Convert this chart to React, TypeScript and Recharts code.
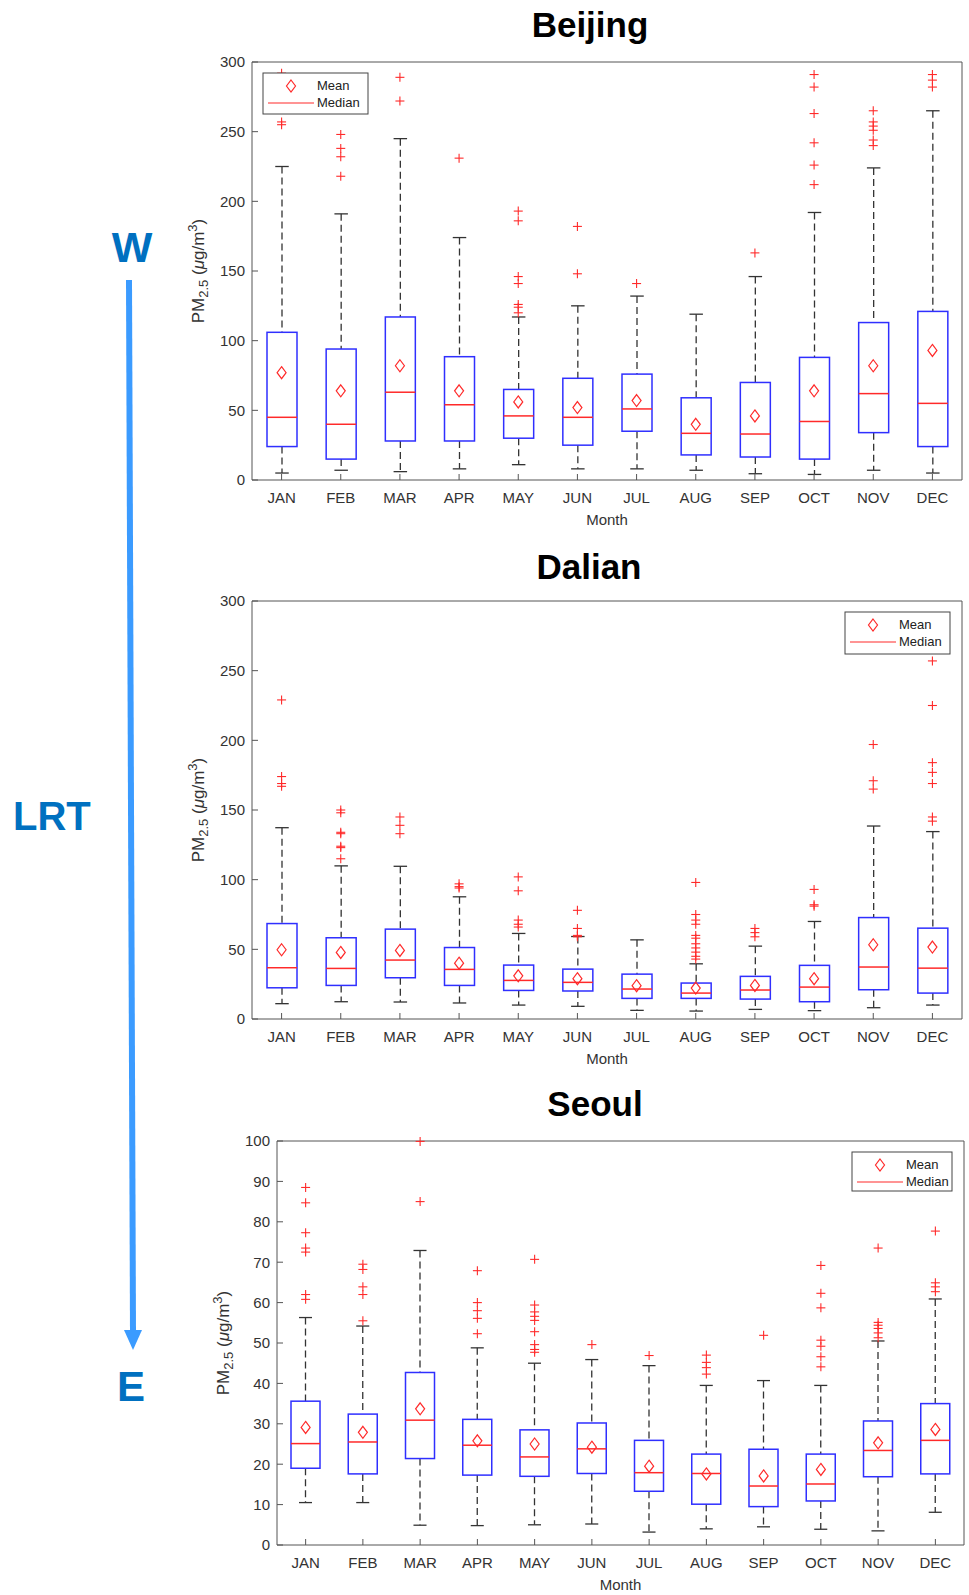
import { Bar, ComposedChart, Label, Scatter, XAxis, YAxis } from "recharts";

const months = ["JAN", "FEB", "MAR", "APR", "MAY", "JUN", "JUL", "AUG", "SEP", "OCT", "NOV", "DEC"];

// Beijing
const beijingLow = [5, 7, 6, 8, 11, 8, 8, 7, 4.5, 4, 7, 5];
const beijingQ1 = [24, 15, 28, 28, 30, 25, 35, 18, 16.5, 15, 34, 24];
const beijingMedian = [45, 40, 63, 54, 46, 45, 51, 33.5, 33, 42, 62, 55];
const beijingQ3 = [106, 94, 117, 88.5, 65, 73, 76, 59, 70, 88, 113, 121];
const beijingHigh = [225, 191, 245, 174, 117, 125, 132, 119, 146, 192, 224, 265];
const beijingMean = [77, 64, 82, 64, 56, 52, 57, 40, 46, 64, 82, 93];
const beijingOutliers = [
  [255, 257, 292],
  [218, 232, 238, 248],
  [272, 289],
  [231],
  [120, 124, 126, 141, 146, 186, 193],
  [148, 182],
  [141],
  [],
  [163],
  [212, 226, 242, 263, 282, 291],
  [240, 244, 251, 254, 257, 265],
  [282, 287, 291],
];

// Dalian
const dalianLow = [11, 12.4, 12.2, 11.5, 10, 9.1, 6.2, 5.7, 6.9, 6, 8.1, 10];
const dalianQ1 = [22.4, 24.1, 29.6, 24.1, 20.5, 20.1, 14.8, 14.8, 14.3, 12.4, 21, 18.6];
const dalianMedian = [36.8, 36.3, 42.3, 35.6, 27.7, 26.3, 21.5, 18.6, 20.8, 22.9, 37.3, 36.5];
const dalianQ3 = [68.5, 58.3, 64.5, 51.3, 38.7, 35.8, 32.2, 25.8, 30.6, 38.5, 72.8, 65.2];
const dalianHigh = [137.3, 109.9, 109.6, 87.7, 61.4, 59.2, 56.8, 39.6, 52.3, 70, 138.5, 134.5];
const dalianMean = [49.7, 47.8, 49.2, 40.1, 31, 28.9, 23.9, 22.2, 24.1, 28.9, 53.3, 51.6];
const dalianOutliers = [
  [167, 169, 174, 229],
  [115, 123, 124, 133, 134, 148, 150],
  [133, 139, 145],
  [94, 95, 97],
  [66, 68, 71, 92, 102],
  [59, 60, 65, 78],
  [],
  [43, 45, 48, 51, 54, 58, 60, 68, 71, 75, 98],
  [59, 62, 65],
  [81, 82, 93],
  [165, 171, 197],
  [142, 145, 169, 177, 184, 225, 257],
];

// Seoul
const seoulLow = [10.5, 10.5, 4.9, 4.8, 5, 5.2, 3.2, 4, 4.5, 3.9, 3.5, 8.1];
const seoulQ1 = [19, 17.6, 21.4, 17.3, 17, 17.7, 13.3, 10.1, 9.5, 10.9, 16.9, 17.6];
const seoulMedian = [25.1, 25.5, 30.9, 24.7, 21.8, 23.8, 17.9, 17.7, 14.6, 15.1, 23.4, 25.9];
const seoulQ3 = [35.6, 32.4, 42.7, 31.1, 28.5, 30.2, 25.9, 22.5, 23.7, 22.5, 30.7, 35];
const seoulHigh = [56.3, 54.2, 72.9, 48.8, 45, 45.9, 44.4, 39.5, 40.7, 39.5, 50.5, 60.9];
const seoulMean = [29.1, 27.9, 33.7, 25.8, 25, 24.2, 19.5, 17.6, 17.1, 18.7, 25.3, 28.6];
const seoulOutliers = [
  [60.8, 62, 72.5, 73.5, 77.3, 84.7, 88.5],
  [55.5, 62, 63.9, 68.2, 69.5],
  [85, 99.9],
  [52.3, 56.1, 58, 60, 67.9],
  [47.7, 48.4, 49.6, 52.8, 55.6, 56.6, 57.7, 59.4, 70.7],
  [49.6],
  [46.9],
  [42.3, 43.9, 45.2, 47],
  [51.9],
  [44.1, 46.6, 49.2, 50.7, 58.7, 62.3, 69.2],
  [51.3, 52.5, 53.6, 54.4, 55.1, 73.5],
  [62.7, 63.9, 64.9, 77.7],
];

const ticks300 = [0, 50, 100, 150, 200, 250, 300];
const ticks100 = [0, 10, 20, 30, 40, 50, 60, 70, 80, 90, 100];

const BLUE = "#2f2fff";
const RED = "#ff2a2a";
const AXIS = "#555";
const TEXT = "#333";

type Stats = {
  low: number[];
  q1: number[];
  median: number[];
  q3: number[];
  high: number[];
  mean: number[];
  outliers: number[][];
};

const buildRows = (s: Stats) =>
  months.map((month, i) => {
    const row: Record<string, any> = {
      month,
      low: s.low[i],
      q1: s.q1[i],
      median: s.median[i],
      q3: s.q3[i],
      high: s.high[i],
      mean: s.mean[i],
      range: [s.low[i], s.high[i]],
    };
    s.outliers[i].forEach((v, j) => {
      row[`o${j}`] = v;
    });
    return row;
  });

const BoxShape = (props: any) => {
  const { x, y, width, height, payload } = props;
  if (!payload || !Number.isFinite(y)) return <g />;
  const top = Math.min(y, y + height);
  const bottom = Math.max(y, y + height);
  const span = payload.high - payload.low;
  const py = (v: number) => top + ((payload.high - v) / span) * (bottom - top);
  const cx = x + width / 2;
  const cap = width * 0.45;
  return (
    <g>
      <line x1={cx} x2={cx} y1={py(payload.high)} y2={py(payload.q3)} stroke="#333" strokeWidth={1.3} strokeDasharray="7 4" />
      <line x1={cx} x2={cx} y1={py(payload.q1)} y2={py(payload.low)} stroke="#333" strokeWidth={1.3} strokeDasharray="7 4" />
      <line x1={cx - cap / 2} x2={cx + cap / 2} y1={py(payload.high)} y2={py(payload.high)} stroke="#333" strokeWidth={1.3} />
      <line x1={cx - cap / 2} x2={cx + cap / 2} y1={py(payload.low)} y2={py(payload.low)} stroke="#333" strokeWidth={1.3} />
      <rect x={x} y={py(payload.q3)} width={width} height={py(payload.q1) - py(payload.q3)} fill="none" stroke={BLUE} strokeWidth={1.5} />
      <line x1={x} x2={x + width} y1={py(payload.median)} y2={py(payload.median)} stroke={RED} strokeWidth={1.5} />
    </g>
  );
};

const Diamond = (props: any) => {
  const { cx, cy } = props;
  if (!Number.isFinite(cx) || !Number.isFinite(cy)) return <g />;
  return (
    <polygon
      points={`${cx},${cy - 6} ${cx + 4.5},${cy} ${cx},${cy + 6} ${cx - 4.5},${cy}`}
      fill="none"
      stroke={RED}
      strokeWidth={1.2}
    />
  );
};

const plusShape = (key: string) => (props: any) => {
  const { cx, cy, payload } = props;
  if (!payload || payload[key] == null || !Number.isFinite(cy)) return <g />;
  return (
    <g stroke={RED} strokeWidth={1.1}>
      <line x1={cx - 4.5} x2={cx + 4.5} y1={cy} y2={cy} />
      <line x1={cx} x2={cx} y1={cy - 4.5} y2={cy + 4.5} />
    </g>
  );
};

const PmLabel = (props: any) => {
  const { viewBox } = props;
  if (!viewBox) return null;
  const x = viewBox.x + 12;
  const y = viewBox.y + viewBox.height / 2;
  return (
    <text transform={`translate(${x},${y}) rotate(-90)`} textAnchor="middle" fontSize={17} fill={TEXT}>
      <tspan>PM</tspan>
      <tspan dy={4} fontSize={13}>2.5</tspan>
      <tspan dy={-4}> (</tspan>
      <tspan fontStyle="italic">μ</tspan>
      <tspan>g/m</tspan>
      <tspan dy={-7} fontSize={13}>3</tspan>
      <tspan dy={7}>)</tspan>
    </text>
  );
};

const MonthLabel = (props: any) => {
  const { viewBox } = props;
  if (!viewBox) return null;
  return (
    <text x={viewBox.x + viewBox.width / 2} y={viewBox.y + 45} textAnchor="middle" fontSize={15} fill={TEXT}>
      Month
    </text>
  );
};

type PanelProps = {
  stats: Stats;
  top: number;
  height: number;
  margin: { top: number; right: number; bottom: number; left: number };
  max: number;
  ticks: number[];
  barSize: number;
};

const BoxPanel = ({ stats, top, height, margin, max, ticks, barSize }: PanelProps) => {
  const rows = buildRows(stats);
  const maxOutliers = Math.max(...stats.outliers.map((o) => o.length));
  const outlierKeys = Array.from({ length: maxOutliers }, (_, j) => `o${j}`);
  return (
    <div style={{ position: "absolute", left: 0, top }}>
      <ComposedChart width={969} height={height} data={rows} margin={margin}>
        <XAxis
          dataKey="month"
          interval={0}
          height={30}
          tickSize={-6}
          tickMargin={18}
          tick={{ fontSize: 15, fill: TEXT }}
          axisLine={{ stroke: AXIS }}
          tickLine={{ stroke: AXIS }}
        >
          <Label content={MonthLabel} />
        </XAxis>
        <XAxis
          xAxisId="top"
          orientation="top"
          dataKey="month"
          interval={0}
          height={1}
          tickSize={-6}
          tick={false}
          axisLine={{ stroke: AXIS }}
          tickLine={{ stroke: AXIS }}
        />
        <YAxis
          type="number"
          domain={[0, max]}
          ticks={ticks}
          width={60}
          tickSize={-6}
          tickMargin={13}
          tick={{ fontSize: 15, fill: TEXT }}
          axisLine={{ stroke: AXIS }}
          tickLine={{ stroke: AXIS }}
        >
          <Label content={PmLabel} />
        </YAxis>
        <YAxis
          yAxisId="right"
          orientation="right"
          type="number"
          domain={[0, max]}
          ticks={ticks}
          width={1}
          tickSize={-6}
          tick={false}
          axisLine={{ stroke: AXIS }}
          tickLine={{ stroke: AXIS }}
        />
        <Bar dataKey="range" barSize={barSize} shape={BoxShape} isAnimationActive={false} />
        <Scatter dataKey="mean" shape={Diamond} isAnimationActive={false} />
        {outlierKeys.map((key) => (
          <Scatter key={key} dataKey={key} shape={plusShape(key)} isAnimationActive={false} />
        ))}
      </ComposedChart>
    </div>
  );
};

const LegendBox = ({ x, y, w, h }: { x: number; y: number; w: number; h: number }) => (
  <g>
    <rect x={x} y={y} width={w} height={h} fill="#fff" stroke="#444" strokeWidth={1} />
    <polygon
      points={`${x + 28},${y + 7} ${x + 32.5},${y + 13} ${x + 28},${y + 19} ${x + 23.5},${y + 13}`}
      fill="none"
      stroke={RED}
      strokeWidth={1.2}
    />
    <line x1={x + 5} x2={x + 51} y1={y + 30} y2={y + 30} stroke={RED} strokeWidth={1.2} />
    <text x={x + 54} y={y + 17} fontSize={13} fill="#222">Mean</text>
    <text x={x + 54} y={y + 34} fontSize={13} fill="#222">Median</text>
  </g>
);

export default function App() {
  return (
    <div
      style={{
        position: "absolute",
        left: 0,
        top: 0,
        width: 969,
        height: 1595,
        background: "#fff",
        fontFamily: "'Liberation Sans', Arial, Helvetica, sans-serif",
      }}
    >
      <BoxPanel
        stats={{ low: beijingLow, q1: beijingQ1, median: beijingMedian, q3: beijingQ3, high: beijingHigh, mean: beijingMean, outliers: beijingOutliers }}
        top={0}
        height={540}
        margin={{ top: 61, right: 6, bottom: 30, left: 192 }}
        max={300}
        ticks={ticks300}
        barSize={30}
      />
      <BoxPanel
        stats={{ low: dalianLow, q1: dalianQ1, median: dalianMedian, q3: dalianQ3, high: dalianHigh, mean: dalianMean, outliers: dalianOutliers }}
        top={540}
        height={540}
        margin={{ top: 60, right: 6, bottom: 31, left: 192 }}
        max={300}
        ticks={ticks300}
        barSize={30}
      />
      <BoxPanel
        stats={{ low: seoulLow, q1: seoulQ1, median: seoulMedian, q3: seoulQ3, high: seoulHigh, mean: seoulMean, outliers: seoulOutliers }}
        top={1080}
        height={515}
        margin={{ top: 60, right: 4, bottom: 20, left: 217 }}
        max={100}
        ticks={ticks100}
        barSize={29}
      />
      <svg width={969} height={1595} style={{ position: "absolute", left: 0, top: 0, pointerEvents: "none" }}>
        <text x={590} y={37} textAnchor="middle" fontSize={35} fontWeight="bold" fill="#000">Beijing</text>
        <text x={589} y={579} textAnchor="middle" fontSize={35} fontWeight="bold" fill="#000">Dalian</text>
        <text x={595} y={1116} textAnchor="middle" fontSize={35} fontWeight="bold" fill="#000">Seoul</text>

        <LegendBox x={263} y={73} w={105} h={41} />
        <LegendBox x={845} y={612} w={105} h={42} />
        <LegendBox x={852} y={1152} w={100} h={39} />

        <line x1={129} y1={280} x2={133} y2={1333} stroke="#3b9bff" strokeWidth={6} />
        <polygon points="124,1330 142,1330 133,1350" fill="#3b9bff" />
        <text x={132} y={262} textAnchor="middle" fontSize={43} fontWeight="bold" fill="#0070c0">W</text>
        <text x={13} y={830} fontSize={40} fontWeight="bold" fill="#0070c0">LRT</text>
        <text x={131} y={1401} textAnchor="middle" fontSize={42} fontWeight="bold" fill="#0070c0">E</text>
      </svg>
    </div>
  );
}
